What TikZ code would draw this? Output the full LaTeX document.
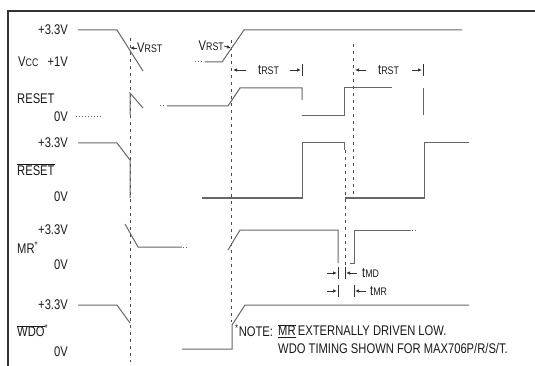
\documentclass[tikz,border=0pt]{standalone}
\usepackage{fontspec}
\setmainfont{Liberation Sans}[FakeStretch=0.8]
\usepackage{tikz}
\usetikzlibrary{arrows.meta}
\newcommand{\smc}[1]{{\fontsize{11}{11}\selectfont #1}}
\newcommand{\ovl}[1]{\ensuremath{\overline{\hbox{#1}}}}
\tikzset{
  wave/.style={draw=black!60, line width=1pt},
  guide/.style={draw=black!70, line width=0.8pt, dash pattern=on 3pt off 4pt},
  lvl/.style={font=\fontsize{14}{14}\selectfont, inner sep=0pt, text=black!90},
  tarrow/.style={-{Latex[length=4pt,width=3.5pt]}, line width=0.8pt, draw=black!80},
  tbar/.style={line width=0.8pt, draw=black!80},
}

\begin{document}
\begin{tikzpicture}[x=1pt, y=-1pt]
  \useasboundingbox (0,0) rectangle (535,366);
  % frame
  \draw[line width=1.2pt, black!80] (8,366) -- (8,11) -- (535,11);

  % guide lines
  \draw[guide] (130,38) -- (130,362);
  \draw[guide] (231,40) -- (231,322);
  \draw[guide] (353,44) -- (353,197);
  \draw[guide] (345,150) -- (345,265);

  % level labels
  \node[lvl, anchor=east] (vcchi) at (68,30) {+3.3V};
  \node[lvl, anchor=west] (vcc) at (18,62) {V\smc{CC}};
  \node[lvl, anchor=east] (vcclo) at (68,62) {+1V};
  \node[lvl, anchor=west] (rst) at (17,99) {RESET};
  \node[lvl, anchor=east] (rstlo) at (68,117) {0V};
  \node[lvl, anchor=east] (nrsthi) at (68,143) {+3.3V};
  \node[lvl, anchor=west] (nrst) at (17,170) {\ovl{RESET}};
  \node[lvl, anchor=east] (nrstlo) at (68,197) {0V};
  \node[lvl, anchor=east] (mrhi) at (68,230) {+3.3V};
  \node[lvl, anchor=west] (mr) at (17,248) {MR\textsuperscript{*}};
  \node[lvl, anchor=east] (mrlo) at (68,265) {0V};
  \node[lvl, anchor=east] (wdohi) at (68,305) {+3.3V};
  \node[lvl, anchor=west] (wdo) at (17,331) {\ovl{WDO}\textsuperscript{*}};
  \node[lvl, anchor=east] (wdolo) at (68,352) {0V};

  % VCC
  \draw[wave] (78,30) -- (117,30) -- (143,71);
  \draw[wave, dotted] (195,62) -- (204,62);
  \draw[wave] (205,62) -- (222,62) -- (244,30) -- (462,30);

  % RESET
  \draw[wave, dotted] (76,117) -- (101,117);
  \draw[wave] (130,115) -- (130,93) -- (143,108);
  \draw[wave, dotted] (160,106) -- (166,106);
  \draw[wave] (167,106) -- (228,106) -- (240,88) -- (302,88) -- (302,100);
  \draw[wave] (302,116) -- (344,116) -- (344,88) -- (392,88);
  \draw[wave] (423,88) -- (423,115);

  % RESET bar
  \draw[wave] (78,143) -- (117,143) -- (130,160) -- (130,198);
  \draw[wave] (202,198) -- (302,198) -- (302,143) -- (344,143) -- (344,150);
  \draw[wave] (345,198) -- (424,198) -- (424,143) -- (469,143);

  % MR
  \draw[wave] (125,224) -- (138,247) -- (182,247);
  \draw[wave, dotted] (183,247) -- (187,247);
  \draw[wave] (228,250) -- (240,230) -- (338,230) -- (338,263);
  \draw[wave] (350,263) -- (354,263) -- (354,230) -- (411,230);
  \draw[wave, dotted] (412,230) -- (416,230);

  % WDO
  \draw[wave] (78,305) -- (117,305) -- (130,323);
  \draw[wave] (182,349) -- (232,349) -- (232,325) -- (245,305) -- (469,305);

  % threshold marks
  \node[lvl, anchor=west] (vrsta) at (137,48) {V\smc{RST}};
  \node[lvl, anchor=east] (vrstb) at (224,46) {V\smc{RST}};
  \coordinate (ca) at (130,48);
  \coordinate (cb) at (231,48);
  \draw[tarrow] (vrsta.west) -- (ca);
  \draw[tarrow] (vrstb.east) -- (cb);

  % tRST
  \node[lvl, anchor=west] (trsta) at (258,70) {t\smc{RST}};
  \node[lvl, anchor=west] (trstb) at (378,70) {t\smc{RST}};
  \draw[tarrow] (246,70) -- (233,70);
  \draw[tarrow] (290,70) -- (301,70);
  \draw[tbar] (302,64) -- (302,76);
  \draw[tarrow] (366,70) -- (355,70);
  \draw[tarrow] (412,70) -- (422,70);
  \draw[tbar] (423,64) -- (423,76);

  % tMD, tMR
  \node[lvl, anchor=west] (tmd) at (362,273) {t\smc{MD}};
  \node[lvl, anchor=west] (tmr) at (370,291) {t\smc{MR}};
  \draw[tarrow] (327,273) -- (337,273);
  \draw[tbar] (338,267) -- (338,279);
  \draw[tbar] (345,267) -- (345,279);
  \draw[tarrow] (357,273) -- (346,273);
  \draw[tarrow] (327,291) -- (337,291);
  \draw[tbar] (338,285) -- (338,297);
  \draw[tbar] (354,285) -- (354,297);
  \draw[tarrow] (366,291) -- (355,291);

  % note
  \node[lvl, anchor=west] (note) at (235,331) {\textsuperscript{*}NOTE:};
  \node[lvl, anchor=west] (notea) at (278,331) {\underline{\ovl{MR}}\,EXTERNALLY DRIVEN LOW.};
  \node[lvl, anchor=west] (noteb) at (278,348) {WDO TIMING SHOWN FOR MAX706P/R/S/T.};
\end{tikzpicture}
\end{document}
